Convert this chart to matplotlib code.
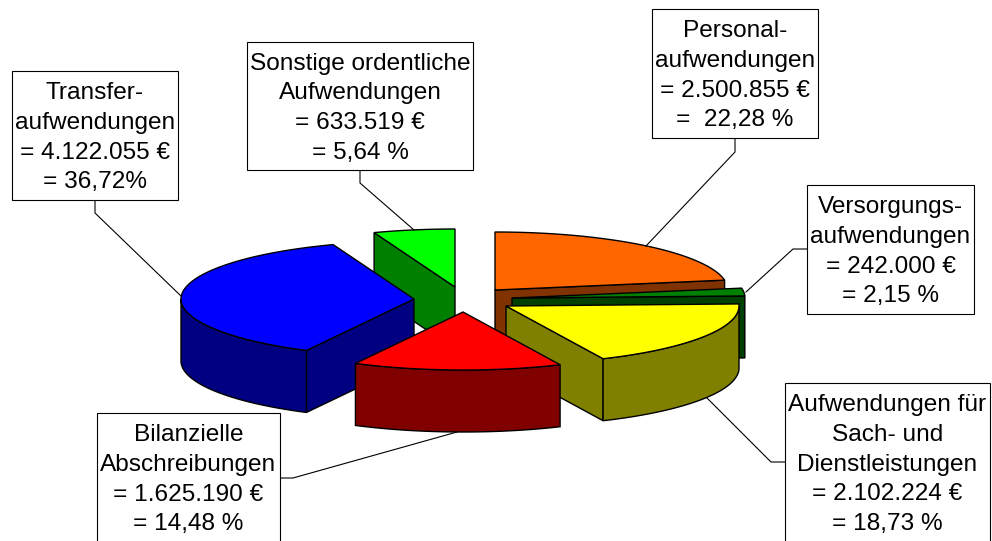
import numpy as np
import matplotlib
matplotlib.use('Agg')
import matplotlib.pyplot as plt
from matplotlib.patches import Polygon, Rectangle

plt.rcParams['font.family'] = ['Liberation Sans', 'DejaVu Sans']

names = ['Personal', 'Versorgung', 'Sach', 'Abschreibung', 'Transfer', 'Sonstige']
values = [2500855, 242000, 2102224, 1625190, 4122055, 633519]
top_colors = ['#FF6600', '#008000', '#FFFF00', '#FF0000', '#0000FF', '#00FF00']
side_colors = ['#803300', '#004000', '#808000', '#800000', '#000080', '#008000']

# where each exploded slice has its tip, in pixels
apex_x = [495, 512, 506, 463, 414, 455]
apex_y = [290, 298, 306, 312, 299, 287]

labels = [
    'Personal-\naufwendungen\n= 2.500.855 €\n=  22,28 %',
    'Versorgungs-\naufwendungen\n= 242.000 €\n= 2,15 %',
    'Aufwendungen für\nSach- und\nDienstleistungen\n= 2.102.224 €\n= 18,73 %',
    'Bilanzielle\nAbschreibungen\n= 1.625.190 €\n= 14,48 %',
    'Transfer-\naufwendungen\n= 4.122.055 €\n= 36,72%',
    'Sonstige ordentliche\nAufwendungen\n= 633.519 €\n= 5,64 %',
]
boxes = [
    (652, 9, 818, 138),
    (807, 185, 974, 314),
    (785, 383, 990, 542),
    (97, 413, 280, 542),
    (12, 71, 178, 200),
    (247, 42, 473, 170),
]
leaders = [
    ([735, 735, 646], [138, 152, 246]),
    ([807, 793, 746], [249, 249, 292]),
    ([785, 771, 707], [462, 462, 398]),
    ([280, 293, 457], [478, 478, 432]),
    ([95, 95, 181], [200, 213, 296]),
    ([360, 360, 414], [170, 183, 230]),
]

RX = 233
RY = 58
DEPTH = 62


def rim(a0, a1, x0, y0):
    t = np.radians(np.linspace(a0, a1, 60))
    return x0 + RX * np.sin(t), y0 - RY * np.cos(t)


def draw_slice(ax, a0, a1, x0, y0, top, side):
    x, y = rim(a0, a1, x0, y0)
    # cut faces, only the ones turned to the viewer
    shown = []
    if np.sin(np.radians(a0)) < 0:
        shown.append(a0)
    if np.sin(np.radians(a1)) > 0:
        shown.append(a1)
    for ang in shown:
        px, py = rim(ang, ang, x0, y0)
        quad = [(x0, y0), (px[0], py[0]), (px[0], py[0] + DEPTH), (x0, y0 + DEPTH)]
        ax.add_patch(Polygon(quad, fc=side, ec='black', lw=1))
    # outer wall, only the part on the front half
    lo, hi = max(a0, 90), min(a1, 270)
    if lo < hi:
        wx, wy = rim(lo, hi, x0, y0)
        pts = list(zip(wx, wy)) + list(zip(wx[::-1], wy[::-1] + DEPTH))
        ax.add_patch(Polygon(pts, fc=side, ec='black', lw=1))
    pts = [(x0, y0)] + list(zip(x, y))
    ax.add_patch(Polygon(pts, fc=top, ec='black', lw=1))


fig = plt.figure(figsize=(9.92, 5.41), dpi=100)
ax = fig.add_axes([0, 0, 1, 1])
ax.set_xlim(0, 992)
ax.set_ylim(541, 0)
ax.axis('off')

total = sum(values)
angles = np.concatenate([[0], np.cumsum(values) / total * 360])

# back slices first so the front ones cover them
for i in [0, 5, 1, 4, 2, 3]:
    draw_slice(ax, angles[i], angles[i + 1], apex_x[i], apex_y[i], top_colors[i], side_colors[i])

for lx, ly in leaders:
    ax.plot(lx, ly, color='black', lw=0.8)

for i in range(len(labels)):
    x0, y0, x1, y1 = boxes[i]
    ax.add_patch(Rectangle((x0, y0), x1 - x0, y1 - y0, fc='white', ec='black', lw=0.8, zorder=3))
    ax.text((x0 + x1) / 2, (y0 + y1) / 2 + 2.3, labels[i], ha='center', va='center', ma='center',
            fontsize=17.6, linespacing=1.45, zorder=4)

fig.savefig('out.png', dpi=100)
